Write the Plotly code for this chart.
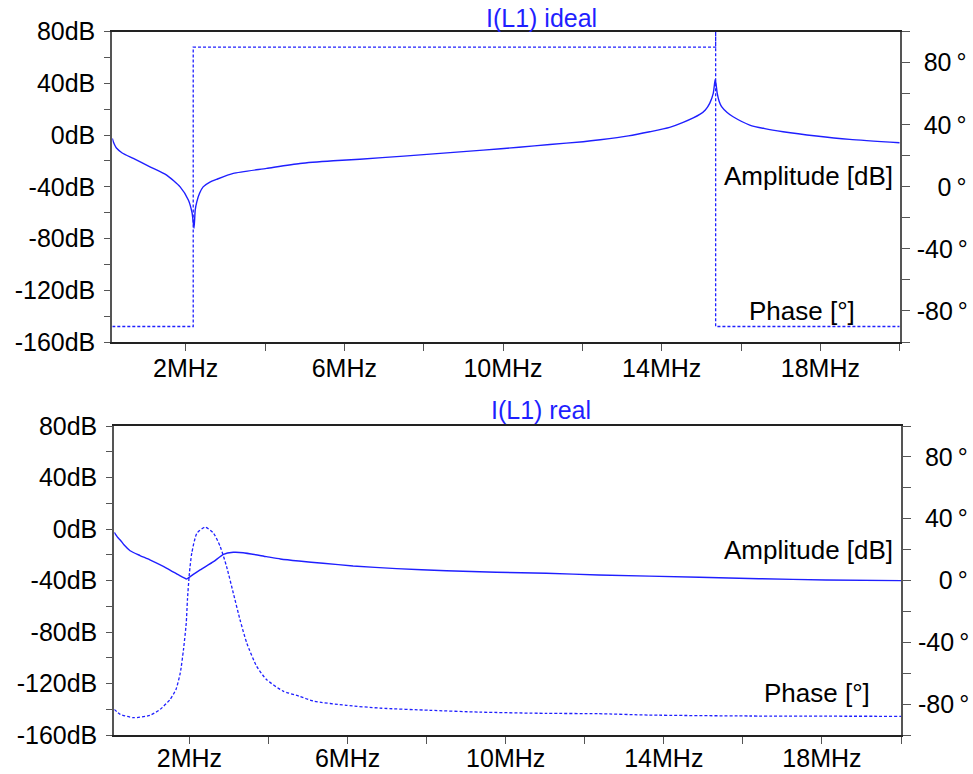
import plotly.graph_objects as go

# ---------------- data (frequency in MHz) ----------------
ideal_amp_f = [0.15, 0.18, 0.22, 0.26, 0.4, 0.68, 1.1, 1.52, 1.86, 2.07, 2.16, 2.21, 2.24, 2.28, 2.35, 2.44, 2.6, 2.78, 3.2,
               4.04, 4.88, 5.72, 6.39, 7.5, 8.5, 9.5, 10.4, 11.18, 12.02, 12.45, 13.16, 13.7,
               14.2, 14.54, 14.96, 15.1, 15.21, 15.3, 15.35, 15.4, 15.45, 15.51, 15.65, 15.8, 16.22, 16.6, 17.06, 17.9, 18.74, 20.0]
ideal_amp_db = [-2.5, -5.5, -8.2, -10.2, -13.8, -18.0, -24.5, -30.9, -40.0, -50.3, -60.0, -72.0, -58.0, -51.6, -45.0, -40.0, -36.5, -34.2, -29.6,
                -25.7, -21.9, -19.8, -18.6, -16.2, -13.9, -11.6, -9.4, -7.2, -5.1, -3.6, -0.6, 2.6,
                6.0, 9.8, 16.0, 19.5, 24.6, 32.3, 43.2, 32.3, 26.0, 22.0, 17.5, 14.2, 7.8, 5.0, 2.6, -0.7, -3.3, -5.9]
ideal_phase_f = [0.15, 2.19, 2.19, 15.36, 15.36, 15.36, 20.0]
ideal_phase_deg = [-90, -90, 90, 90, 200, -90, -90]

real_amp_f = [0.1, 0.15, 0.2, 0.25, 0.35, 0.5, 0.75, 1.0, 1.43, 1.77, 1.88, 1.92, 1.96, 2.02, 2.27, 2.61, 2.86, 3.11, 3.36, 3.95,
              4.3, 4.77, 5.38, 6.14, 7.24, 8.5, 9.76, 11.03, 12.35, 14.9, 16.41, 18.1, 20.0]
real_amp_db = [-2.6, -5.0, -7.0, -8.5, -12.5, -16.9, -20.6, -24.0, -30.5, -36.5, -38.2, -38.8, -38.3, -37.0, -31.8, -25.4, -19.7, -18.1, -18.4, -21.5,
               -23.3, -24.9, -26.6, -28.7, -30.8, -32.4, -33.6, -34.4, -35.7, -37.5, -38.6, -39.6, -40.1]
real_phase_f = [0.1, 0.25, 0.59, 1.0, 1.26, 1.51, 1.66, 1.77, 1.85, 1.92, 1.95, 2.0, 2.06, 2.19, 2.4,
                2.61, 2.78, 2.94, 3.11, 3.28, 3.45, 3.7, 3.95, 4.37, 4.77, 5.13, 5.97, 6.82, 8.08,
                9.34, 11.03, 12.33, 13.63, 16.16, 20.0]
real_phase_deg = [-83.4, -86.6, -88.8, -87.3, -83.4, -77.0, -70.5, -59.7, -44.7, -27.5, -12.5, 4.8, 17.7, 30.6, 34.5,
                  30.6, 21.9, 9.0, -8.1, -25.4, -40.4, -55.5, -64.1, -71.6, -74.8, -78.0, -80.8, -82.6, -84.0,
                  -85.2, -86.0, -86.2, -87.1, -87.7, -87.9]

x_tickvals = [2, 6, 10, 14, 18]
x_ticktext = ["2MHz", "6MHz", "10MHz", "14MHz", "18MHz"]
db_tickvals = [80, 40, 0, -40, -80, -120, -160]
db_ticktext = ["80dB", "40dB", "0dB", "-40dB", "-80dB", "-120dB", "-160dB"]
deg_tickvals = [80, 40, 0, -40, -80]
deg_ticktext = ["\u200880\u2009°", "\u200840\u2009°", "\u2007\u20080\u2009°", "-40\u2009°", "-80\u2009°"]

W, H = 973, 774
BLUE = "#1f1fff"
FONT = "Liberation Sans, Arial, sans-serif"
FS = 25

def px_x(p):
    return p / W

def px_y(p):
    return 1 - p / H

fig = go.Figure()
fig.add_trace(go.Scatter(x=ideal_amp_f, y=ideal_amp_db, mode="lines", xaxis="x", yaxis="y",
                         line=dict(color=BLUE, width=1.4, shape="spline", smoothing=0.6), showlegend=False))
fig.add_trace(go.Scatter(x=ideal_phase_f, y=ideal_phase_deg, mode="lines", xaxis="x", yaxis="y2",
                         line=dict(color=BLUE, width=1.3, dash="3px,2px"), showlegend=False))
fig.add_trace(go.Scatter(x=real_amp_f, y=real_amp_db, mode="lines", xaxis="x2", yaxis="y3",
                         line=dict(color=BLUE, width=1.4, shape="spline", smoothing=0.5), showlegend=False))
fig.add_trace(go.Scatter(x=real_phase_f, y=real_phase_deg, mode="lines", xaxis="x2", yaxis="y4",
                         line=dict(color=BLUE, width=1.3, dash="3px,2px", shape="spline", smoothing=0.6), showlegend=False))

axcol = "#555555"
common_x = dict(tickvals=x_tickvals, ticktext=x_ticktext, ticks="outside", ticklen=7, tickwidth=1.3,
                tickcolor=axcol, showline=True, linecolor="#222222", linewidth=1.5, mirror=True,
                showgrid=False, zeroline=False, tickfont=dict(family=FONT, size=FS, color="black"),
                automargin=False,
                minor=dict(dtick=4, tick0=0, ticks="outside", ticklen=7, tickcolor=axcol, tickwidth=1.3, showgrid=False))
common_db = dict(range=[-160, 80], tickvals=db_tickvals, ticktext=db_ticktext, ticks="outside", ticklen=6,
                 tickwidth=1.3, tickcolor=axcol, showline=True, linecolor=axcol, linewidth=2, mirror=True,
                 showgrid=False, zeroline=False, tickfont=dict(family=FONT, size=FS, color="black"),
                 ticklabelstandoff=4, automargin=False,
                 minor=dict(dtick=20, tick0=0, ticks="outside", ticklen=6, tickcolor=axcol, tickwidth=1.3, showgrid=False))
common_deg = dict(range=[-100, 100], tickvals=deg_tickvals, ticktext=deg_ticktext, ticks="outside", ticklen=8,
                  tickwidth=1.3, tickcolor=axcol, showline=True, linecolor=axcol, linewidth=2, side="right",
                  showgrid=False, zeroline=False, tickfont=dict(family=FONT, size=FS, color="black"),
                  ticklabelstandoff=2, automargin=False,
                  minor=dict(dtick=20, tick0=0, ticks="outside", ticklen=8, tickcolor=axcol, tickwidth=1.3, showgrid=False))

fig.update_layout(
    width=W, height=H, autosize=False, margin=dict(l=0, r=0, t=0, b=0, pad=0),
    paper_bgcolor="white", plot_bgcolor="white", showlegend=False,
    xaxis=dict(domain=[px_x(112.3), px_x(899.7)], range=[0.15, 20], anchor="y", ticklabelstandoff=-4, **common_x),
    yaxis=dict(domain=[px_y(342), px_y(31.7)], anchor="x", **common_db),
    yaxis2=dict(overlaying="y", anchor="x", **common_deg),
    xaxis2=dict(domain=[px_x(114.3), px_x(901)], range=[0.1, 20], anchor="y3", ticklabelstandoff=-7, **common_x),
    yaxis3=dict(domain=[px_y(735), px_y(426)], anchor="x2", **common_db),
    yaxis4=dict(overlaying="y3", anchor="x2", **common_deg),
)

ann_font = dict(family=FONT, size=26, color="black")
fig.add_annotation(text="I(L1) ideal", x=px_x(541), y=px_y(18), xref="paper", yref="paper",
                   showarrow=False, font=dict(family=FONT, size=25, color=BLUE), xanchor="center", yanchor="middle")
fig.add_annotation(text="I(L1) real", x=px_x(541), y=px_y(410), xref="paper", yref="paper",
                   showarrow=False, font=dict(family=FONT, size=25, color=BLUE), xanchor="center", yanchor="middle")
fig.add_annotation(text="Amplitude [dB]", x=px_x(895), y=px_y(176), xref="paper", yref="paper",
                   showarrow=False, font=ann_font, xanchor="right", yanchor="middle")
fig.add_annotation(text="Phase [°]", x=px_x(857), y=px_y(311), xref="paper", yref="paper",
                   showarrow=False, font=ann_font, xanchor="right", yanchor="middle")
fig.add_annotation(text="Amplitude [dB]", x=px_x(895), y=px_y(550), xref="paper", yref="paper",
                   showarrow=False, font=ann_font, xanchor="right", yanchor="middle")
fig.add_annotation(text="Phase [°]", x=px_x(872), y=px_y(693), xref="paper", yref="paper",
                   showarrow=False, font=ann_font, xanchor="right", yanchor="middle")

fig.write_html("out.html", config={"displayModeBar": False},
               post_script="document.body.style.margin='0px';document.body.style.overflow='hidden';")
